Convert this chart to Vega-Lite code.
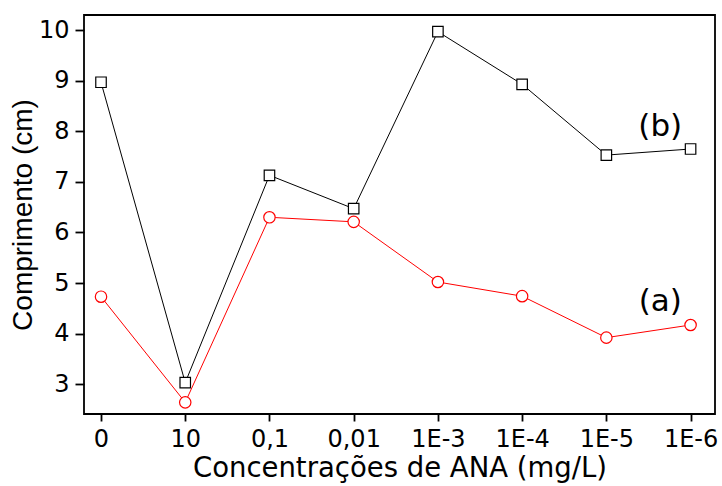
{
  "$schema": "https://vega.github.io/schema/vega-lite/v6.json",
  "width": 631,
  "height": 399,
  "autosize": {"type": "none"},
  "padding": {"left": 84, "top": 15, "right": 7, "bottom": 72},
  "background": "white",
  "config": {
    "view": {"stroke": "black", "strokeWidth": 1.8},
    "font": "DejaVu Sans"
  },
  "datasets": {
    "pts": [
      {"i": 0, "conc": "0", "serie": "b", "v": 8.97},
      {"i": 1, "conc": "10", "serie": "b", "v": 3.03},
      {"i": 2, "conc": "0,1", "serie": "b", "v": 7.13},
      {"i": 3, "conc": "0,01", "serie": "b", "v": 6.47},
      {"i": 4, "conc": "1E-3", "serie": "b", "v": 9.97},
      {"i": 5, "conc": "1E-4", "serie": "b", "v": 8.93},
      {"i": 6, "conc": "1E-5", "serie": "b", "v": 7.53},
      {"i": 7, "conc": "1E-6", "serie": "b", "v": 7.65},
      {"i": 0, "conc": "0", "serie": "a", "v": 4.73},
      {"i": 1, "conc": "10", "serie": "a", "v": 2.64},
      {"i": 2, "conc": "0,1", "serie": "a", "v": 6.30},
      {"i": 3, "conc": "0,01", "serie": "a", "v": 6.21},
      {"i": 4, "conc": "1E-3", "serie": "a", "v": 5.02},
      {"i": 5, "conc": "1E-4", "serie": "a", "v": 4.74},
      {"i": 6, "conc": "1E-5", "serie": "a", "v": 3.92},
      {"i": 7, "conc": "1E-6", "serie": "a", "v": 4.17}
    ],
    "labels": [
      {"i": 6.64, "v": 8.08, "t": "(b)"},
      {"i": 6.64, "v": 4.62, "t": "(a)"}
    ]
  },
  "layer": [
    {
      "data": {"name": "pts"},
      "transform": [{"filter": "datum.serie === 'b'"}],
      "mark": {"type": "line", "color": "black", "strokeWidth": 1},
      "encoding": {
        "x": {
          "field": "i", "type": "quantitative",
          "scale": {"domain": [-0.202, 7.29], "nice": false, "zero": false},
          "axis": {
            "values": [0, 1, 2, 3, 4, 5, 6, 7],
            "labelExpr": "['0','10','0,1','0,01','1E-3','1E-4','1E-5','1E-6'][datum.value]",
            "title": "Concentrações de ANA (mg/L)",
            "grid": false, "domain": false,
            "tickColor": "black", "tickSize": 7, "tickWidth": 1.8,
            "labelFont": "DejaVu Sans",
            "labelFontSize": 24, "labelColor": "black", "labelPadding": 6,
            "titleFont": "DejaVu Sans",
            "titleFontSize": 27.5, "titleFontWeight": "normal", "titleColor": "black", "titlePadding": 3
          }
        },
        "y": {
          "field": "v", "type": "quantitative",
          "scale": {"domain": [2.41, 10.3], "nice": false, "zero": false},
          "axis": {
            "values": [3, 4, 5, 6, 7, 8, 9, 10],
            "title": "Comprimento (cm)",
            "grid": false, "domain": false,
            "tickColor": "black", "tickSize": 9, "tickWidth": 1.8,
            "labelFont": "DejaVu Sans",
            "labelFontSize": 24, "labelColor": "black", "labelPadding": 6,
            "titleFont": "Liberation Sans",
            "titleFontSize": 28, "titleFontWeight": "normal", "titleColor": "black", "titlePadding": 1
          }
        }
      }
    },
    {
      "data": {"name": "pts"},
      "transform": [{"filter": "datum.serie === 'a'"}],
      "mark": {"type": "line", "color": "#ff0000", "strokeWidth": 1},
      "encoding": {
        "x": {"field": "i", "type": "quantitative"},
        "y": {"field": "v", "type": "quantitative"}
      }
    },
    {
      "data": {"name": "pts"},
      "transform": [{"filter": "datum.serie === 'b'"}],
      "mark": {"type": "point", "shape": "square", "size": 110, "filled": true, "fill": "white", "stroke": "black", "strokeWidth": 1.2, "opacity": 1},
      "encoding": {
        "x": {"field": "i", "type": "quantitative"},
        "y": {"field": "v", "type": "quantitative"}
      }
    },
    {
      "data": {"name": "pts"},
      "transform": [{"filter": "datum.serie === 'a'"}],
      "mark": {"type": "point", "shape": "circle", "size": 130, "filled": true, "fill": "white", "stroke": "#ff0000", "strokeWidth": 1.2, "opacity": 1},
      "encoding": {
        "x": {"field": "i", "type": "quantitative"},
        "y": {"field": "v", "type": "quantitative"}
      }
    },
    {
      "data": {"name": "labels"},
      "mark": {"type": "text", "fontSize": 31, "font": "DejaVu Sans", "color": "black", "align": "center", "baseline": "middle"},
      "encoding": {
        "x": {"field": "i", "type": "quantitative"},
        "y": {"field": "v", "type": "quantitative"},
        "text": {"field": "t"}
      }
    }
  ]
}
